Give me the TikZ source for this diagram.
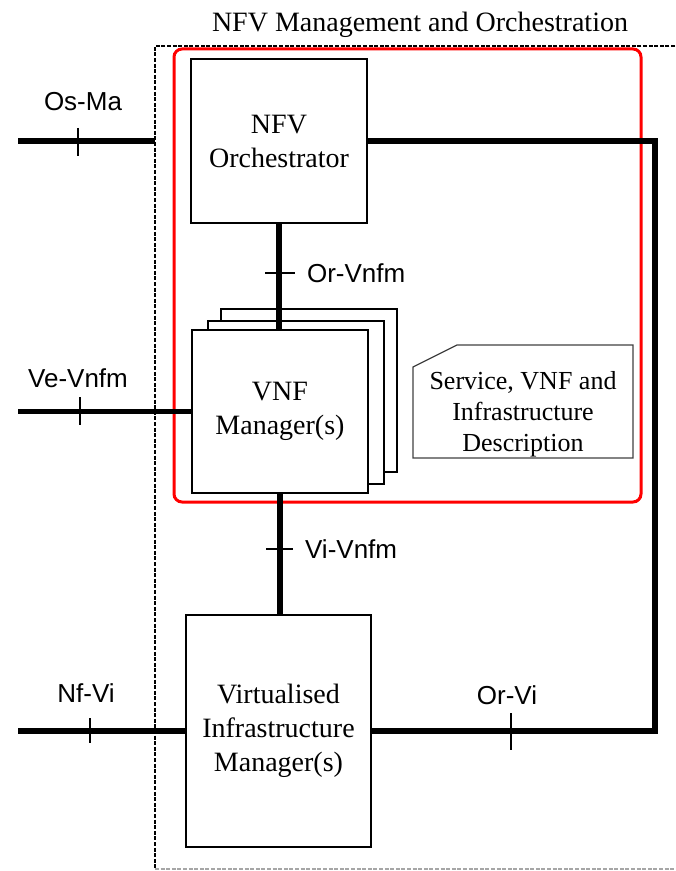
\documentclass[tikz,border=0pt]{standalone}
\usepackage{fontspec}
\setmainfont{Liberation Serif}
\setsansfont{Liberation Sans}
\begin{document}
\begin{tikzpicture}[x=.5pt,y=-.5pt,line width=1.1pt,
  box/.style={draw,fill=white,align=center,inner sep=0pt,font=\fontsize{14}{17}\selectfont},
  link/.style={line width=2.7pt},
  tick/.style={line width=.9pt},
  lbl/.style={font=\sffamily\fontsize{13}{15}\selectfont,inner sep=0pt}]
\useasboundingbox (0,0) rectangle (675,871);
% management and orchestration domain
\node[anchor=base,inner sep=0pt,font=\fontsize{14}{17}\selectfont] (title) at (420,32) {NFV Management and Orchestration};
\draw[line width=.9pt,dash pattern=on 2pt off .8pt] (675,46) -- (155,46) -- (155,869);
\draw[line width=.8pt,black!35,dash pattern=on 2pt off .8pt] (155,869) -- (675,869);
\draw[red,line width=1.5pt,rounded corners=4pt] (174,49) rectangle (641,502);
% functional blocks
\node[box,minimum width=88pt,minimum height=82pt] (orch) at (279,141) {NFV\\Orchestrator};
\node[box,minimum width=88pt,minimum height=81.5pt] (vnfm3) at (309,390.5) {};
\node[box,minimum width=88pt,minimum height=81.5pt] (vnfm2) at (296,402.5) {};
\node[box,minimum width=88pt,minimum height=81.5pt] (vnfm) at (280,411.5) {VNF\\Manager(s)};
\node[box,minimum width=92.5pt,minimum height=116pt] (vim) at (278.5,731) {Virtualised\\Infrastructure\\Manager(s)};
\draw[black!75,line width=.6pt] (413,367) -- (457,345) -- (633,345) -- (633,458) -- (413,458) -- cycle;
\node[align=center,inner sep=0pt,font=\fontsize{13}{15.5}\selectfont] (desc) at (523,414) {Service, VNF and\\Infrastructure\\Description};
% reference points
\coordinate (osma) at (18,141);
\coordinate (border) at (155,141);
\coordinate (vevnfm) at (18,410);
\coordinate (nfvi) at (18,731);
\coordinate (corner) at (655,141);
% reference points: connectors
\draw[link] (osma) -- (border);
\draw[link] (vevnfm |- vnfm.west) -- (vnfm.west);
\draw[link] (nfvi |- vim.west) -- (vim.west);
\draw[link] (orch.south) -- (orch.south |- vnfm.north);
\draw[link] (vnfm.south) -- (vnfm.south |- vim.north);
\draw[link] (orch.east) -- (corner) -- (corner |- vim.east) -- (vim.east);
% ticks and labels
\draw[tick] (78,128) -- ++(0,28);
\draw[tick] (80,397) -- ++(0,28);
\draw[tick] (90,718) -- ++(0,25);
\draw[tick] (511,713) -- ++(0,37);
\draw[tick] (265,273) -- ++(30,0);
\draw[tick] (266,549) -- ++(27,0);
\node[lbl] (osmalbl) at (83,102) {Os-Ma};
\node[lbl] (vevnfmlbl) at (78,378) {Ve-Vnfm};
\node[lbl] (nfvilbl) at (86,693) {Nf-Vi};
\node[lbl] (orvilbl) at (507,695) {Or-Vi};
\node[lbl,anchor=west] (orvnfmlbl) at (306,273) {Or-Vnfm};
\node[lbl,anchor=west] (vivnfmlbl) at (304,549) {Vi-Vnfm};
\end{tikzpicture}
\end{document}
